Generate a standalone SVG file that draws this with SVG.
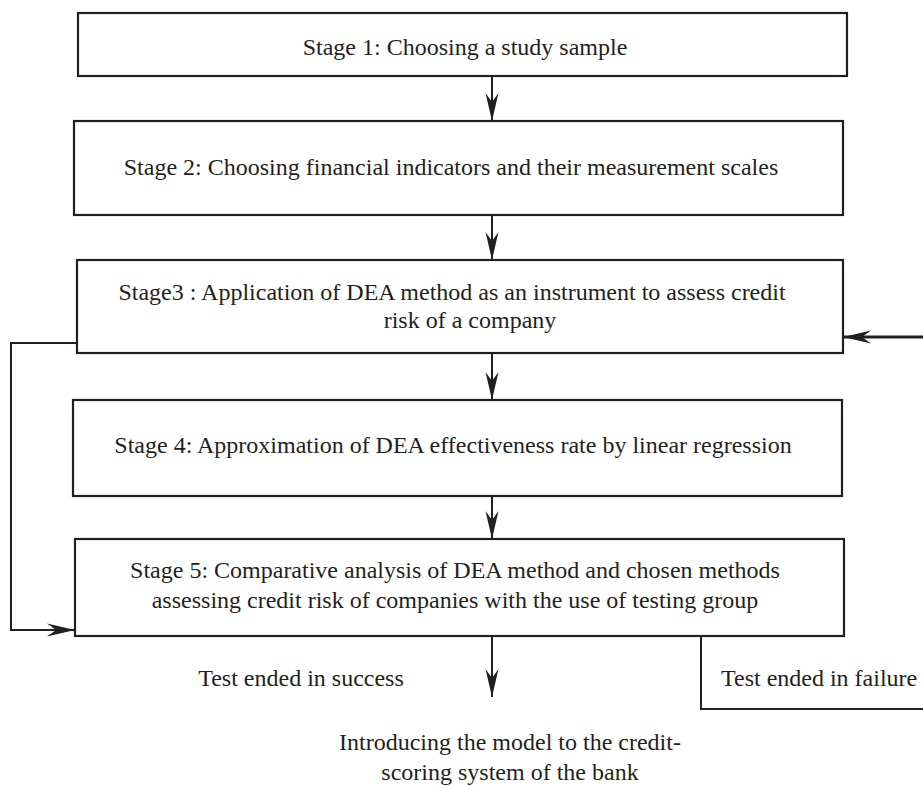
<svg xmlns="http://www.w3.org/2000/svg" width="923" height="786" viewBox="0 0 923 786">
<style>
.box{fill:#fff;stroke:#231f20;stroke-width:2.2}
.t{font-family:"Liberation Serif","Times New Roman",serif;font-size:24px;fill:#231f20}
.c{text-anchor:middle}
.ln{fill:none;stroke:#231f20;stroke-width:2}
</style>
<defs>
<marker id="ah" markerUnits="userSpaceOnUse" orient="auto" markerWidth="30" markerHeight="16" refX="0" refY="0" viewBox="-29 -8 30 16" overflow="visible">
<path d="M0,0 L-28,-6.5 L-19,0 L-28,6.5 Z" fill="#231f20"/>
</marker>
</defs>
<rect width="923" height="786" fill="#fff"/>
<g id="connectors">
<line class="ln" x1="492" y1="76" x2="492" y2="121" marker-end="url(#ah)"/>
<line class="ln" x1="492" y1="215" x2="492" y2="260" marker-end="url(#ah)"/>
<line class="ln" x1="492" y1="353" x2="492" y2="400" marker-end="url(#ah)"/>
<line class="ln" x1="492" y1="496" x2="492" y2="539" marker-end="url(#ah)"/>
<line class="ln" x1="492" y1="636" x2="492" y2="697" marker-end="url(#ah)"/>
<polyline class="ln" points="77,343 11,343 11,630 75,630" marker-end="url(#ah)"/>
<polyline class="ln" points="701,636 701,709 923,709"/>
<line class="ln" style="stroke-width:3" x1="923" y1="337" x2="843" y2="337" marker-end="url(#ah)"/>
</g>
<g id="stage1">
<rect class="box" x="78" y="13" width="769" height="63"/>
<text class="t c" x="465" y="55">Stage 1: Choosing a study sample</text>
</g>
<g id="stage2">
<rect class="box" x="74" y="121" width="769" height="94"/>
<text class="t c" x="451" y="175">Stage 2: Choosing financial indicators and their measurement scales</text>
</g>
<g id="stage3">
<rect class="box" x="77" y="260" width="766" height="93"/>
<text class="t c" x="452" y="300">Stage3 : Application of DEA method as an instrument to assess credit</text>
<text class="t c" x="470" y="328">risk of a company</text>
</g>
<g id="stage4">
<rect class="box" x="73" y="400" width="769" height="96"/>
<text class="t c" x="453" y="453">Stage 4: Approximation of DEA effectiveness rate by linear regression</text>
</g>
<g id="stage5">
<rect class="box" x="75" y="539" width="769" height="97"/>
<text class="t c" x="455" y="578">Stage 5: Comparative analysis of DEA method and chosen methods</text>
<text class="t c" x="455" y="608">assessing credit risk of companies with the use of testing group</text>
</g>
<g id="success">
<text class="t c" x="301" y="686">Test ended in success</text>
</g>
<g id="failure">
<text class="t" x="721" y="686">Test ended in failure</text>
</g>
<g id="final">
<text class="t c" x="510" y="750">Introducing the model to the credit-</text>
<text class="t c" x="510" y="780">scoring system of the bank</text>
</g>
</svg>
